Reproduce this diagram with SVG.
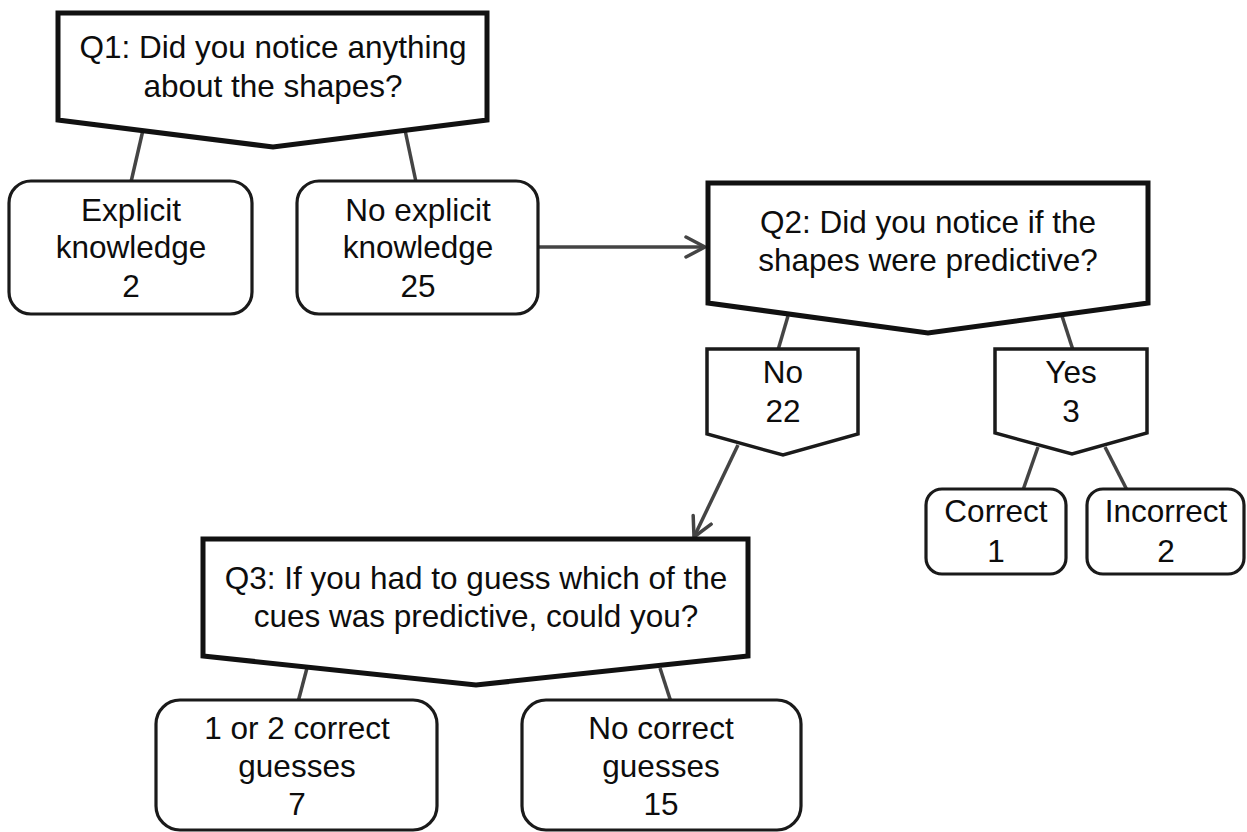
<svg xmlns="http://www.w3.org/2000/svg" width="1247" height="832" viewBox="0 0 1247 832">
<style>
  text { font-family: "Liberation Sans", Arial, Helvetica, sans-serif; font-size: 31.5px; fill: #0d0d0d; text-anchor: middle; }
  .q { fill: #fff; stroke: #111; stroke-width: 5; stroke-linejoin: miter; }
  .ans { fill: #fff; stroke: #1a1a1a; stroke-width: 3.5; }
  .box { fill: #fff; stroke: #1a1a1a; stroke-width: 3.2; }
  .conn line { stroke: #444; stroke-width: 3.5; fill: none; }
</style>
<defs>
  <marker id="arr" viewBox="0 0 24 24" refX="21" refY="12" markerWidth="24" markerHeight="24" markerUnits="userSpaceOnUse" orient="auto">
    <path d="M2,2 L21,12 L2,22" fill="none" stroke="#444" stroke-width="3.5" stroke-linecap="round" stroke-linejoin="round"/>
  </marker>
</defs>
<rect width="1247" height="832" fill="#fff"/>

<g class="conn" id="connectors">
  <line x1="143" y1="130" x2="131" y2="182"/>
  <line x1="405" y1="130" x2="416" y2="182"/>
  <line x1="538" y1="247" x2="705" y2="247" marker-end="url(#arr)"/>
  <line x1="788" y1="316" x2="778" y2="350"/>
  <line x1="1062" y1="316" x2="1073" y2="350"/>
  <line x1="738" y1="445" x2="694" y2="537" marker-end="url(#arr)"/>
  <line x1="1038" y1="447" x2="1023" y2="490"/>
  <line x1="1105" y1="447" x2="1127" y2="490"/>
  <line x1="307" y1="668" x2="298" y2="702"/>
  <line x1="660" y1="668" x2="671" y2="702"/>
</g>

<g id="q1">
  <polygon class="q" points="58,13 487,13 487,120 273,147 58,120"/>
  <text x="273" y="58">Q1: Did you notice anything</text>
  <text x="273" y="97">about the shapes?</text>
</g>

<g id="explicit">
  <rect class="box" x="9" y="181" width="243" height="133" rx="22"/>
  <text x="131" y="221">Explicit</text>
  <text x="131" y="258">knowledge</text>
  <text x="131" y="297">2</text>
</g>

<g id="no-explicit">
  <rect class="box" x="297" y="181" width="241" height="133" rx="22"/>
  <text x="418" y="221">No explicit</text>
  <text x="418" y="258">knowledge</text>
  <text x="418" y="297">25</text>
</g>

<g id="q2">
  <polygon class="q" points="708,183 1148,183 1148,303 928,333 708,303"/>
  <text x="928" y="233">Q2: Did you notice if the</text>
  <text x="928" y="271">shapes were predictive?</text>
</g>

<g id="no">
  <polygon class="ans" points="707,349 858,349 858,434 783,455 707,434"/>
  <text x="783" y="383">No</text>
  <text x="783" y="422">22</text>
</g>

<g id="yes">
  <polygon class="ans" points="995,349 1147,349 1147,433 1072,454 995,433"/>
  <text x="1071" y="383">Yes</text>
  <text x="1071" y="422">3</text>
</g>

<g id="correct">
  <rect class="box" x="926" y="489" width="140" height="85" rx="16"/>
  <text x="996" y="522">Correct</text>
  <text x="996" y="562">1</text>
</g>

<g id="incorrect">
  <rect class="box" x="1087" y="489" width="157" height="85" rx="16"/>
  <text x="1166" y="522">Incorrect</text>
  <text x="1166" y="562">2</text>
</g>

<g id="q3">
  <polygon class="q" points="203,539 748,539 748,656 476,685 203,656"/>
  <text x="476" y="589">Q3: If you had to guess which of the</text>
  <text x="476" y="627">cues was predictive, could you?</text>
</g>

<g id="some-correct">
  <rect class="box" x="156" y="700" width="281" height="130" rx="24"/>
  <text x="297" y="739">1 or 2 correct</text>
  <text x="297" y="777">guesses</text>
  <text x="297" y="815">7</text>
</g>

<g id="no-correct">
  <rect class="box" x="522" y="700" width="279" height="130" rx="24"/>
  <text x="661" y="739">No correct</text>
  <text x="661" y="777">guesses</text>
  <text x="661" y="815">15</text>
</g>
</svg>
